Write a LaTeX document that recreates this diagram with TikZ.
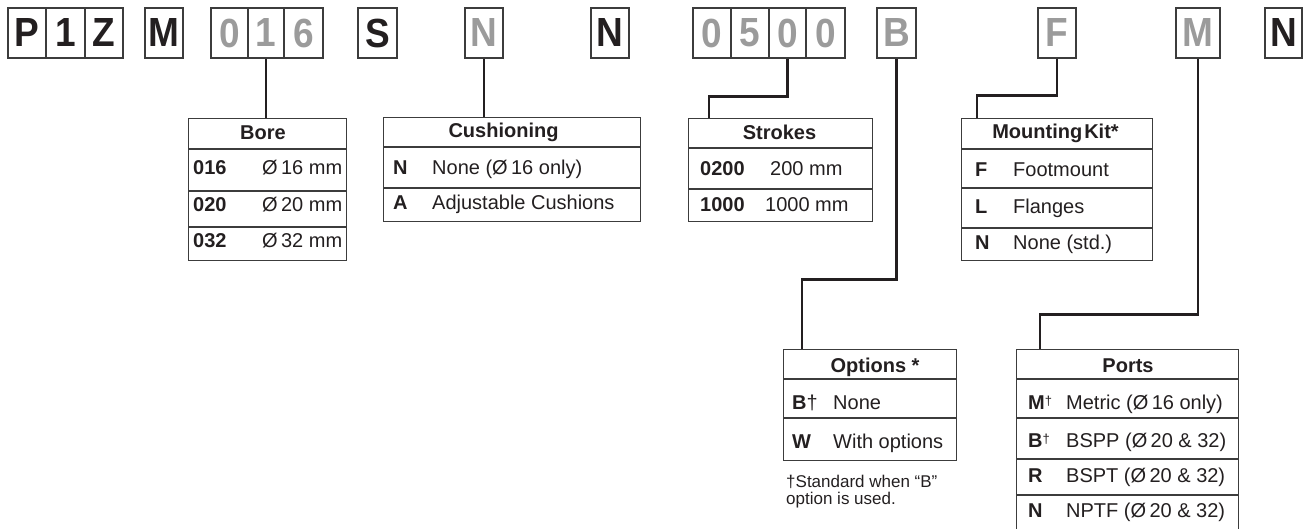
\documentclass[tikz,border=0pt]{standalone}
\usepackage{graphicx}
\usepackage{fontspec}
\setmainfont{Liberation Sans}
\definecolor{ink}{HTML}{231F20}
\definecolor{fade}{HTML}{9B9B9B}
\definecolor{rulec}{HTML}{3C3C3C}
\newcommand\mycodefont{\fontsize{37}{40}\selectfont\bfseries}
\newcommand\myhdrfont{\fontsize{20}{22}\selectfont\bfseries}
\newcommand\mykeyfont{\fontsize{20}{22}\selectfont\bfseries}
\newcommand\mybodyfont{\fontsize{20}{22}\selectfont}
\newcommand\mynotefont{\fontsize{17}{20}\selectfont}
\newcommand\smalldag{{\fontsize{13}{13}\selectfont\raisebox{4pt}{†}}}
\newcommand\tallch[1]{\scalebox{1}[1.1]{#1}}
\begin{document}
\begin{tikzpicture}[x=1pt,y=-1pt,
  cell/.style={draw=rulec, line width=1.3pt, minimum height=50pt, inner sep=0pt, font=\mycodefont, text=ink},
  faded/.style={text=fade},
  tab/.style={draw=rulec, line width=1.3pt, inner sep=0pt, anchor=north west},
  sep/.style={draw=rulec, line width=1.3pt},
  conn/.style={draw=ink, line width=2.6pt},
  hdr/.style={font=\myhdrfont, text=ink, inner sep=0pt, anchor=base},
  key/.style={font=\mykeyfont, text=ink, anchor=base west, inner sep=0pt},
  txt/.style={font=\mybodyfont, text=ink, anchor=base west, inner sep=0pt},
  note/.style={font=\mynotefont, text=ink, anchor=base west, inner sep=0pt}]
\useasboundingbox (0,0) rectangle (1304,529);

% ---- code cells ----
\node[cell, minimum width=38pt] (cP) at (27,33) {\tallch{P}};
\node[cell, minimum width=39pt] (c1) at (65.5,33) {\tallch{1}};
\node[cell, minimum width=38pt] (cZ) at (104,33) {\tallch{Z}};
\node[cell, minimum width=38pt] (cM) at (164,33) {\tallch{M}};
\node[cell, faded, minimum width=37pt] (b0) at (229.5,33) {\tallch{0}};
\node[cell, faded, minimum width=36pt] (b1) at (266,33) {\tallch{1}};
\node[cell, faded, minimum width=39pt] (b6) at (303.5,33) {\tallch{6}};
\node[cell, minimum width=39pt] (cS) at (377.5,33) {\tallch{S}};
\node[cell, faded, minimum width=38pt] (cN1) at (484,33) {\tallch{N}};
\node[cell, minimum width=38pt] (cN2) at (610,33) {\tallch{N}};
\node[cell, faded, minimum width=38pt] (s0) at (712,33) {\tallch{0}};
\node[cell, faded, minimum width=38pt] (s5) at (750,33) {\tallch{5}};
\node[cell, faded, minimum width=37pt] (s0b) at (787.5,33) {\tallch{0}};
\node[cell, faded, minimum width=39pt] (s0c) at (825.5,33) {\tallch{0}};
\node[cell, faded, minimum width=39pt] (cB) at (896.5,33) {\tallch{B}};
\node[cell, faded, minimum width=38pt] (cF) at (1057,33) {\tallch{F}};
\node[cell, faded, minimum width=44pt] (cM2) at (1198,33) {\tallch{M}};
\node[cell, minimum width=37pt] (cN3) at (1283.5,33) {\tallch{N}};

% ---- tables ----
\node[tab, minimum width=158pt, minimum height=142pt] (bore) at (188,118) {};
\draw[sep] ([yshift=-31pt]bore.north west) -- ([yshift=-31pt]bore.north east);
\draw[sep] ([yshift=-73pt]bore.north west) -- ([yshift=-73pt]bore.north east);
\draw[sep] ([yshift=-109pt]bore.north west) -- ([yshift=-109pt]bore.north east);
\node[hdr] (boreh) at (263,140) {Bore};
\node[key] (bk1) at (193,175) {016};
\node[txt] (bt1) at (262,175) {Ø\,16 mm};
\node[key] (bk2) at (193,212) {020};
\node[txt] (bt2) at (262,212) {Ø\,20 mm};
\node[key] (bk3) at (193,248) {032};
\node[txt] (bt3) at (262,248) {Ø\,32 mm};

\node[tab, minimum width=257pt, minimum height=104pt] (cush) at (383,117) {};
\draw[sep] ([yshift=-30pt]cush.north west) -- ([yshift=-30pt]cush.north east);
\draw[sep] ([yshift=-71pt]cush.north west) -- ([yshift=-71pt]cush.north east);
\node[hdr] (cushh) at (503.5,138) {Cushioning};
\node[key] (ck1) at (393,175) {N};
\node[txt] (ct1) at (432,175) {None (Ø\,16 only)};
\node[key] (ck2) at (393,210) {A};
\node[txt] (ct2) at (432,210) {Adjustable Cushions};

\node[tab, minimum width=184pt, minimum height=103pt] (strokes) at (688,118) {};
\draw[sep] ([yshift=-30pt]strokes.north west) -- ([yshift=-30pt]strokes.north east);
\draw[sep] ([yshift=-71pt]strokes.north west) -- ([yshift=-71pt]strokes.north east);
\node[hdr] (strokesh) at (779.5,140) {Strokes};
\node[key] (sk1) at (700,176) {0200};
\node[txt] (st1) at (770,176) {200 mm};
\node[key] (sk2) at (700,212) {1000};
\node[txt] (st2) at (765,212) {1000 mm};

\node[tab, minimum width=191pt, minimum height=142pt] (mount) at (961,118) {};
\draw[sep] ([yshift=-31pt]mount.north west) -- ([yshift=-31pt]mount.north east);
\draw[sep] ([yshift=-70pt]mount.north west) -- ([yshift=-70pt]mount.north east);
\draw[sep] ([yshift=-110pt]mount.north west) -- ([yshift=-110pt]mount.north east);
\node[hdr] (mounth) at (1055.5,139) {Mounting\hspace{2pt}Kit*};
\node[key] (mk1) at (975,177) {F};
\node[txt] (mt1) at (1013,177) {Footmount};
\node[key] (mk2) at (975,214) {L};
\node[txt] (mt2) at (1013,214) {Flanges};
\node[key] (mk3) at (975,250) {N};
\node[txt] (mt3) at (1013,250) {None (std.)};

\node[tab, minimum width=173pt, minimum height=111pt] (opts) at (783,349) {};
\draw[sep] ([yshift=-30pt]opts.north west) -- ([yshift=-30pt]opts.north east);
\draw[sep] ([yshift=-69pt]opts.north west) -- ([yshift=-69pt]opts.north east);
\node[hdr] (optsh) at (875,372) {Options *};
\node[key] (ok1) at (792,409) {B\textmd{†}};
\node[txt] (ot1) at (833,409) {None};
\node[key] (ok2) at (792,448) {W};
\node[txt] (ot2) at (833,448) {With options};
\node[note] (on1) at (786,487) {†Standard when “B”};
\node[note] (on2) at (786,504) {option is used.};

\node[tab, minimum width=222pt, minimum height=184pt] (ports) at (1016,349) {};
\draw[sep] ([yshift=-30pt]ports.north west) -- ([yshift=-30pt]ports.north east);
\draw[sep] ([yshift=-69pt]ports.north west) -- ([yshift=-69pt]ports.north east);
\draw[sep] ([yshift=-110pt]ports.north west) -- ([yshift=-110pt]ports.north east);
\draw[sep] ([yshift=-146pt]ports.north west) -- ([yshift=-146pt]ports.north east);
\node[hdr] (portsh) at (1128,372) {Ports};
\node[key] (pk1) at (1028,409) {M\textmd{\smalldag}};
\node[txt] (pt1) at (1066,409) {Metric (Ø\,16 only)};
\node[key] (pk2) at (1028,447) {B\textmd{\smalldag}};
\node[txt] (pt2) at (1066,447) {BSPP (Ø\,20 \& 32)};
\node[key] (pk3) at (1028,482) {R};
\node[txt] (pt3) at (1066,482) {BSPT (Ø\,20 \& 32)};
\node[key] (pk4) at (1028,517) {N};
\node[txt] (pt4) at (1066,517) {NPTF (Ø\,20 \& 32)};

% ---- connectors ----
\draw[conn] (b1.south) -- (b1.south |- bore.north);
\draw[conn] (cN1.south) -- (cN1.south |- cush.north);
\draw[conn] (s0b.south) -- ++(0,38) -| ([xshift=21pt]strokes.north west);
\draw[conn] (cF.south) -- ++(0,37) -| ([xshift=16pt]mount.north west);
\draw[conn] (cB.south) -- ++(0,221) -| ([xshift=19pt]opts.north west);
\draw[conn] (cM2.south) -- ++(0,256) -| ([xshift=24pt]ports.north west);
\end{tikzpicture}
\end{document}
